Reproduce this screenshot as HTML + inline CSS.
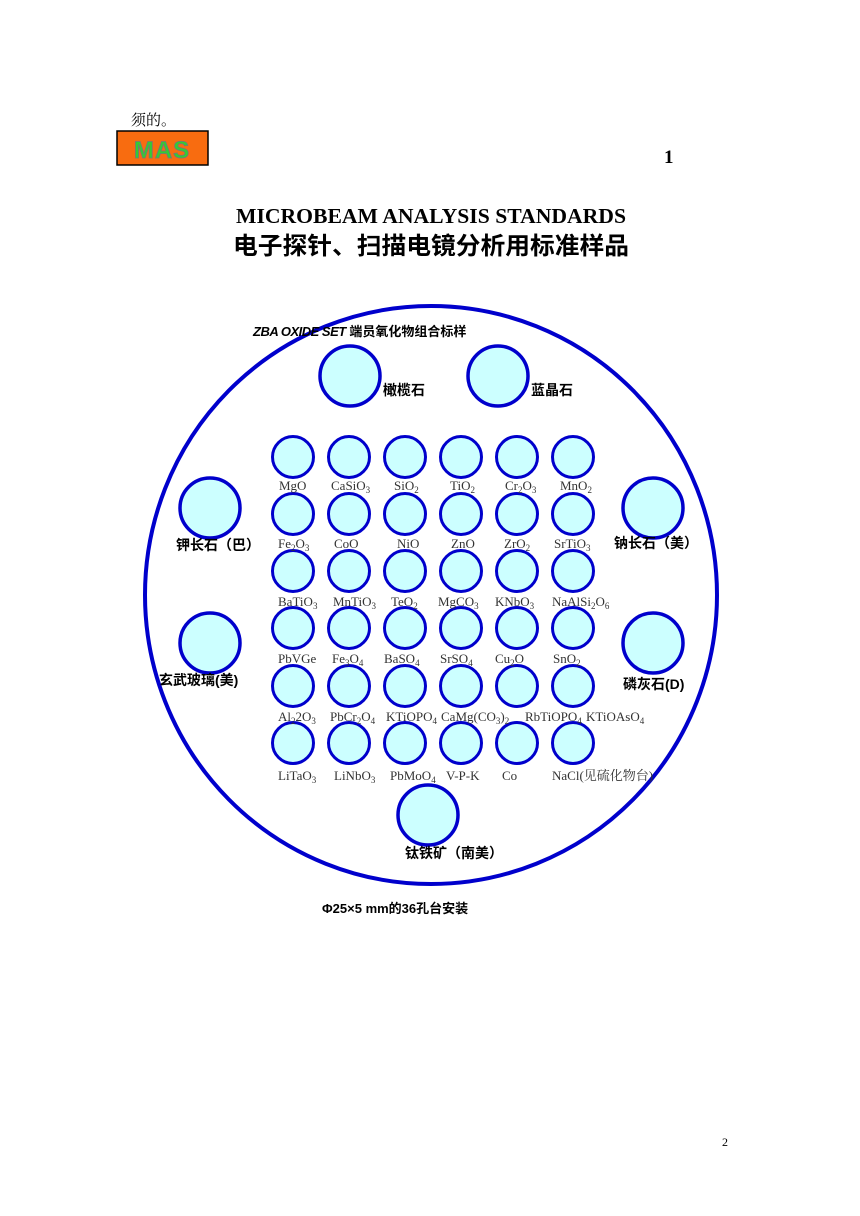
<!DOCTYPE html>
<html><head><meta charset="utf-8"><style>
body{margin:0;background:#fff;}
svg{display:block;}
.lb{font-family:"Liberation Serif","Noto Serif CJK SC",serif;font-size:13px;fill:#333;}
.cj{font-family:"Liberation Sans","Noto Sans CJK SC",sans-serif;font-weight:bold;font-size:14px;fill:#000;}
</style></head><body>
<svg width="860" height="1216" viewBox="0 0 860 1216" xmlns="http://www.w3.org/2000/svg">
<defs>
<g id="r"><circle cx="293" cy="0" r="20.5"/><circle cx="349" cy="0" r="20.5"/><circle cx="405" cy="0" r="20.5"/><circle cx="461" cy="0" r="20.5"/><circle cx="517" cy="0" r="20.5"/><circle cx="573" cy="0" r="20.5"/></g>
</defs>
<text x="131" y="125" font-family="Liberation Serif,Noto Serif CJK SC,serif" font-size="15" fill="#000">须的。</text>
<rect x="117" y="131" width="91" height="34" fill="#f86c10" stroke="#000" stroke-width="1.5"/>
<text x="162" y="158" text-anchor="middle" font-family="Liberation Sans,sans-serif" font-weight="bold" font-size="24" fill="#3c3" stroke="#777" stroke-width="0.8" letter-spacing="1">MAS</text>
<text x="664" y="163" font-family="Liberation Serif,serif" font-weight="bold" font-size="19">1</text>
<text x="431" y="223" text-anchor="middle" font-family="Liberation Serif,serif" font-weight="bold" font-size="21" textLength="390" lengthAdjust="spacingAndGlyphs">MICROBEAM ANALYSIS STANDARDS</text>
<text x="431" y="254" text-anchor="middle" font-family="Liberation Sans,Noto Sans CJK SC,sans-serif" font-weight="bold" font-size="24" textLength="396" lengthAdjust="spacingAndGlyphs">电子探针、扫描电镜分析用标准样品</text>
<ellipse cx="431" cy="595" rx="286" ry="289" fill="none" stroke="#0000cc" stroke-width="4"/>
<text x="253" y="336" font-family="Liberation Sans,Noto Sans CJK SC,sans-serif" font-weight="bold" font-size="13" fill="#000"><tspan font-style="italic" letter-spacing="-0.5">ZBA OXIDE SET</tspan> 端员氧化物组合标样</text>
<g fill="#ccffff" stroke="#0000cc" stroke-width="3.5">
<circle cx="350" cy="376" r="30"/><circle cx="498" cy="376" r="30"/>
<circle cx="210" cy="508" r="30"/><circle cx="653" cy="508" r="30"/>
<circle cx="210" cy="643" r="30"/><circle cx="653" cy="643" r="30"/>
<circle cx="428" cy="815" r="30"/>
</g>
<g fill="#ccffff" stroke="#0000cc" stroke-width="3">
<use href="#r" y="457"/><use href="#r" y="514"/><use href="#r" y="571"/><use href="#r" y="628"/><use href="#r" y="686"/><use href="#r" y="743"/>
</g>
<text class="cj" x="383" y="395">橄榄石</text>
<text class="cj" x="531" y="395">蓝晶石</text>
<text class="cj" x="176" y="550">钾长石（巴）</text>
<text class="cj" x="614" y="548">钠长石（美）</text>
<text class="cj" x="159" y="685">玄武玻璃(美)</text>
<text class="cj" x="623" y="689">磷灰石(D)</text>
<text class="cj" x="405" y="858">钛铁矿（南美）</text>
<g class="lb">
<text x="279" y="490">MgO</text><text x="331" y="490">CaSiO<tspan font-size="9" dy="3">3</tspan></text><text x="394" y="490">SiO<tspan font-size="9" dy="3">2</tspan></text><text x="450" y="490">TiO<tspan font-size="9" dy="3">2</tspan></text><text x="505" y="490">Cr<tspan font-size="9" dy="3">2</tspan><tspan dy="-3">O</tspan><tspan font-size="9" dy="3">3</tspan></text><text x="560" y="490">MnO<tspan font-size="9" dy="3">2</tspan></text>
<text x="278" y="548">Fe<tspan font-size="9" dy="3">2</tspan><tspan dy="-3">O</tspan><tspan font-size="9" dy="3">3</tspan></text><text x="334" y="548">CoO</text><text x="397" y="548">NiO</text><text x="451" y="548">ZnO</text><text x="504" y="548">ZrO<tspan font-size="9" dy="3">2</tspan></text><text x="554" y="548">SrTiO<tspan font-size="9" dy="3">3</tspan></text>
<text x="278" y="606">BaTiO<tspan font-size="9" dy="3">3</tspan></text><text x="333" y="606">MnTiO<tspan font-size="9" dy="3">3</tspan></text><text x="391" y="606">TeO<tspan font-size="9" dy="3">2</tspan></text><text x="438" y="606">MgCO<tspan font-size="9" dy="3">3</tspan></text><text x="495" y="606">KNbO<tspan font-size="9" dy="3">3</tspan></text><text x="552" y="606">NaAlSi<tspan font-size="9" dy="3">2</tspan><tspan dy="-3">O</tspan><tspan font-size="9" dy="3">6</tspan></text>
<text x="278" y="663">PbVGe</text><text x="332" y="663">Fe<tspan font-size="9" dy="3">3</tspan><tspan dy="-3">O</tspan><tspan font-size="9" dy="3">4</tspan></text><text x="384" y="663">BaSO<tspan font-size="9" dy="3">4</tspan></text><text x="440" y="663">SrSO<tspan font-size="9" dy="3">4</tspan></text><text x="495" y="663">Cu<tspan font-size="9" dy="3">2</tspan><tspan dy="-3">O</tspan></text><text x="553" y="663">SnO<tspan font-size="9" dy="3">2</tspan></text>
<text x="278" y="721">Al<tspan font-size="9" dy="3">2</tspan><tspan dy="-3">2O</tspan><tspan font-size="9" dy="3">3</tspan></text><text x="330" y="721">PbCr<tspan font-size="9" dy="3">2</tspan><tspan dy="-3">O</tspan><tspan font-size="9" dy="3">4</tspan></text><text x="386" y="721">KTiOPO<tspan font-size="9" dy="3">4</tspan></text><text x="441" y="721">CaMg(CO<tspan font-size="9" dy="3">3</tspan><tspan dy="-3">)</tspan><tspan font-size="9" dy="3">2</tspan></text><text x="525" y="721">RbTiOPO<tspan font-size="9" dy="3">4</tspan></text><text x="586" y="721">KTiOAsO<tspan font-size="9" dy="3">4</tspan></text>
<text x="278" y="780">LiTaO<tspan font-size="9" dy="3">3</tspan></text><text x="334" y="780">LiNbO<tspan font-size="9" dy="3">3</tspan></text><text x="390" y="780">PbMoO<tspan font-size="9" dy="3">4</tspan></text><text x="446" y="780">V-P-K</text><text x="502" y="780">Co</text><text x="552" y="780">NaCl(见硫化物台)</text>
</g>
<text x="322" y="913" font-family="Liberation Sans,Noto Sans CJK SC,sans-serif" font-weight="bold" font-size="13">Φ25×5 mm的36孔台安装</text>
<text x="722" y="1146" font-family="Liberation Serif,serif" font-size="12">2</text>
</svg>
</body></html>
